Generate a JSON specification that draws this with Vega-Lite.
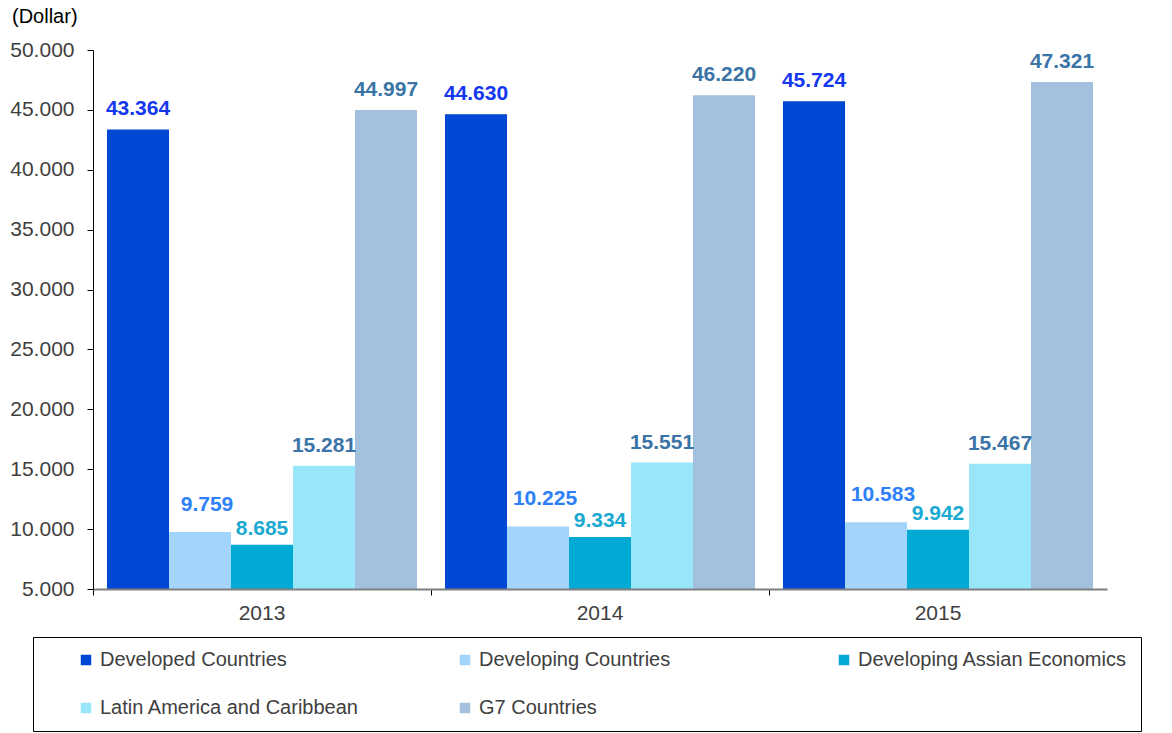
{
  "$schema": "https://vega.github.io/schema/vega-lite/v6.json",
  "autosize": "none",
  "width": 1014,
  "height": 539,
  "padding": {"left": 93, "top": 50, "right": 65, "bottom": 144},
  "background": "white",
  "title": {
    "text": "(Dollar)",
    "anchor": "start",
    "frame": "group",
    "dx": -81,
    "offset": 12,
    "fontSize": 20,
    "fontWeight": "normal",
    "font": "Liberation Sans",
    "color": "#000000"
  },
  "data": {
    "values": [
      {"year": "2013", "series": "Developed Countries", "value": 43364},
      {"year": "2013", "series": "Developing Countries", "value": 9759},
      {"year": "2013", "series": "Developing Assian Economics", "value": 8685},
      {"year": "2013", "series": "Latin America and Caribbean", "value": 15281},
      {"year": "2013", "series": "G7 Countries", "value": 44997},
      {"year": "2014", "series": "Developed Countries", "value": 44630},
      {"year": "2014", "series": "Developing Countries", "value": 10225},
      {"year": "2014", "series": "Developing Assian Economics", "value": 9334},
      {"year": "2014", "series": "Latin America and Caribbean", "value": 15551},
      {"year": "2014", "series": "G7 Countries", "value": 46220},
      {"year": "2015", "series": "Developed Countries", "value": 45724},
      {"year": "2015", "series": "Developing Countries", "value": 10583},
      {"year": "2015", "series": "Developing Assian Economics", "value": 9942},
      {"year": "2015", "series": "Latin America and Caribbean", "value": 15467},
      {"year": "2015", "series": "G7 Countries", "value": 47321}
    ]
  },
  "encoding": {
    "x": {
      "field": "year",
      "type": "nominal",
      "scale": {"paddingInner": 0, "paddingOuter": 0},
      "axis": {
        "title": null,
        "labelAngle": 0,
        "labelFontSize": 21,
        "labelColor": "#404040",
        "labelFont": "Liberation Sans",
        "labelPadding": 7,
        "bandPosition": 0,
        "tickSize": 6,
        "tickColor": "#000000",
        "domainColor": "#7f7f7f",
        "domainWidth": 2,
        "zindex": 1
      }
    },
    "xOffset": {
      "field": "series",
      "type": "nominal",
      "sort": ["Developed Countries", "Developing Countries", "Developing Assian Economics", "Latin America and Caribbean", "G7 Countries"],
      "scale": {"paddingInner": 0, "paddingOuter": 0.226}
    },
    "y": {
      "field": "value",
      "type": "quantitative",
      "scale": {"domain": [5000, 50000], "nice": false, "zero": false},
      "axis": {
        "title": null,
        "values": [5000, 10000, 15000, 20000, 25000, 30000, 35000, 40000, 45000, 50000],
        "format": ",d",
        "grid": false,
        "labelFontSize": 21,
        "labelColor": "#404040",
        "labelFont": "Liberation Sans",
        "labelPadding": 13,
        "tickSize": 6,
        "tickColor": "#000000",
        "domainColor": "#000000",
        "zindex": 1
      }
    }
  },
  "layer": [
    {
      "mark": {"type": "bar", "clip": true},
      "encoding": {
        "color": {
          "field": "series",
          "type": "nominal",
          "sort": ["Developed Countries", "Developing Countries", "Developing Assian Economics", "Latin America and Caribbean", "G7 Countries"],
          "scale": {
            "domain": ["Developed Countries", "Developing Countries", "Developing Assian Economics", "Latin America and Caribbean", "G7 Countries"],
            "range": ["#0047D4", "#A3D4FB", "#00AAD4", "#99E6FB", "#A3C1DF"]
          },
          "legend": {
            "orient": "none",
            "legendX": -60,
            "legendY": 587,
            "direction": "horizontal",
            "columns": 3,
            "gridAlign": "all",
            "columnPadding": 85,
            "rowPadding": 28,
            "padding": 13,
            "strokeColor": "#000000",
            "fillColor": "#ffffff",
            "title": " ",
            "titleOrient": "left",
            "titlePadding": 30,
            "titleFontSize": 20,
            "symbolType": "square",
            "symbolSize": 110,
            "symbolStrokeWidth": 0,
            "symbolOpacity": 1,
            "labelOffset": 4,
            "labelFontSize": 20,
            "labelColor": "#404040",
            "labelFont": "Liberation Sans",
            "labelLimit": 400
          }
        }
      }
    },
    {
      "transform": [{"filter": "datum.series == 'Developed Countries'"}],
      "mark": {"type": "text", "baseline": "alphabetic", "dy": -14, "fontSize": 21, "fontWeight": "bold", "font": "Liberation Sans", "color": "#1437F0"},
      "encoding": {"text": {"field": "value", "type": "quantitative", "format": ",d"}}
    },
    {
      "transform": [{"filter": "datum.series == 'Developing Countries'"}],
      "mark": {"type": "text", "baseline": "alphabetic", "dy": -21, "dx": 7, "fontSize": 21, "fontWeight": "bold", "font": "Liberation Sans", "color": "#2D80F7"},
      "encoding": {"text": {"field": "value", "type": "quantitative", "format": ",d"}}
    },
    {
      "transform": [{"filter": "datum.series == 'Developing Assian Economics'"}],
      "mark": {"type": "text", "baseline": "alphabetic", "dy": -10, "fontSize": 21, "fontWeight": "bold", "font": "Liberation Sans", "color": "#19A9D1"},
      "encoding": {"text": {"field": "value", "type": "quantitative", "format": ",d"}}
    },
    {
      "transform": [{"filter": "datum.series == 'Latin America and Caribbean' || datum.series == 'G7 Countries'"}],
      "mark": {"type": "text", "baseline": "alphabetic", "dy": -14, "fontSize": 21, "fontWeight": "bold", "font": "Liberation Sans", "color": "#3B74A6"},
      "encoding": {"text": {"field": "value", "type": "quantitative", "format": ",d"}}
    }
  ],
  "config": {
    "locale": {"number": {"decimal": ",", "thousands": ".", "grouping": [3], "currency": ["", ""]}},
    "view": {"stroke": null},
    "font": "Liberation Sans"
  }
}
